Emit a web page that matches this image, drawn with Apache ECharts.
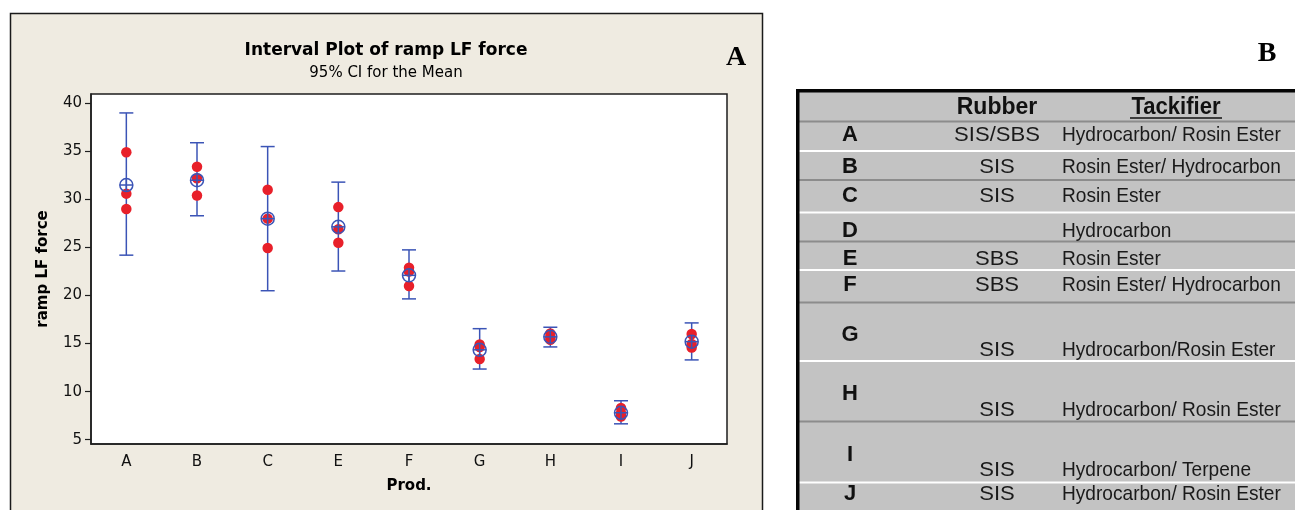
<!DOCTYPE html>
<html>
<head>
<meta charset="utf-8">
<title>Interval Plot of ramp LF force</title>
<script src="https://cdn.jsdelivr.net/npm/echarts@6/dist/echarts.min.js"></script>
<style>
  html, body { margin: 0; padding: 0; background: #ffffff; }
  #chart { width: 1295px; height: 510px; }
</style>
</head>
<body>
<div id="chart"></div>
<script>
// ---- Interval plot data (ramp LF force by product) ----
const categories = ['A', 'B', 'C', 'E', 'F', 'G', 'H', 'I', 'J'];
const meanForce  = [31.5, 32.0, 28.0, 27.15, 22.1, 14.35, 15.7, 7.8, 15.2];
const ciLower    = [24.2, 28.3, 20.5, 22.55, 19.65, 12.35, 14.65, 6.65, 13.3];
const ciUpper    = [39.0, 35.9, 35.5, 31.8, 24.75, 16.55, 16.7, 9.05, 17.15];
const readings   = [
  [34.9, 30.6, 29.0],
  [33.4, 32.2, 30.4],
  [31.0, 28.0, 24.95],
  [29.2, 26.9, 25.5],
  [22.9, 22.5, 21.0],
  [14.9, 14.65, 13.4],
  [16.05, 15.65, 15.4],
  [8.3, 7.75, 7.4],
  [16.0, 14.95, 14.6]
];
const yTicks = [5, 10, 15, 20, 25, 30, 35, 40];

// ---- Formulation table ----
const tableHeaders   = ['Rubber', 'Tackifier'];
const tableProducts  = ['A', 'B', 'C', 'D', 'E', 'F', 'G', 'H', 'I', 'J'];
const tableRubber    = ['SIS/SBS', 'SIS', 'SIS', '', 'SBS', 'SBS', 'SIS', 'SIS', 'SIS', 'SIS'];
const tableTackifier = [
  'Hydrocarbon/ Rosin Ester',
  'Rosin Ester/ Hydrocarbon',
  'Rosin Ester',
  'Hydrocarbon',
  'Rosin Ester',
  'Rosin Ester/ Hydrocarbon',
  'Hydrocarbon/Rosin Ester',
  'Hydrocarbon/ Rosin Ester',
  'Hydrocarbon/ Terpene',
  'Hydrocarbon/ Rosin Ester'
];

// ---- Styling / layout ----
const BLUE = '#3b54b6';
const RED = '#e8202a';
const INK = '#111111';
const PANEL_BG = '#efebe1';
const TABLE_BG = '#c3c3c3';
const SANS = '"DejaVu Sans", Verdana, sans-serif';
const TABLE_FONT = '"Liberation Sans", Arial, sans-serif';
const SERIF = '"Liberation Serif", "Times New Roman", serif';

// table geometry
const TBL_LEFT = 797;
const TBL_TOP = 91;
const COL_PRODUCT_X = 850;
const COL_RUBBER_X = 997;
const COL_TACK_X = 1062;
const separatorY = [121.5, 151, 180, 212.5, 241.5, 270, 302.5, 361, 421.5, 482.5];
const letterY = [135, 167, 196, 231, 259, 285, 335, 394, 455, 494];
const detailY = [135, 167, 196, 231, 259, 285, 350, 410, 470, 494];

const graphics = [];

// left panel background with frame
graphics.push({
  type: 'rect', z: -5,
  shape: { x: 10.5, y: 13.5, width: 752, height: 520 },
  style: { fill: PANEL_BG, stroke: '#1a1a1a', lineWidth: 1.5 }
});
graphics.push({
  type: 'text', z: 5,
  style: { text: 'A', x: 736, y: 58, align: 'center', verticalAlign: 'middle',
           font: 'bold 28px ' + SERIF, fill: '#000' }
});
graphics.push({
  type: 'text', z: 5,
  style: { text: 'B', x: 1267, y: 54, align: 'center', verticalAlign: 'middle',
           font: 'bold 28px ' + SERIF, fill: '#000' }
});

// table body
graphics.push({
  type: 'rect', z: 1,
  shape: { x: TBL_LEFT, y: TBL_TOP, width: 1295 - TBL_LEFT, height: 510 - TBL_TOP + 10 },
  style: { fill: TABLE_BG }
});
separatorY.forEach(function (y, i) {
  graphics.push({
    type: 'rect', z: 2,
    shape: { x: TBL_LEFT, y: y - 1, width: 1295 - TBL_LEFT, height: 2 },
    style: { fill: i % 2 === 0 ? '#8c8c8c' : '#ffffff' }
  });
});
// heavy top and left rules
graphics.push({
  type: 'rect', z: 3,
  shape: { x: TBL_LEFT - 1, y: TBL_TOP - 2, width: 1295 - TBL_LEFT + 1, height: 3.5 },
  style: { fill: '#050505' }
});
graphics.push({
  type: 'rect', z: 3,
  shape: { x: TBL_LEFT - 1, y: TBL_TOP - 2, width: 3.5, height: 510 - TBL_TOP + 10 },
  style: { fill: '#050505' }
});
// header
graphics.push({
  type: 'text', z: 4,
  style: { text: tableHeaders[0], x: COL_RUBBER_X, y: 108, align: 'center', verticalAlign: 'middle',
           font: 'bold 23px ' + TABLE_FONT, fill: '#111' }
});
graphics.push({
  type: 'text', z: 4, x: 1176, y: 108, scaleX: 0.96,
  style: { text: tableHeaders[1], x: 0, y: 0, align: 'center', verticalAlign: 'middle',
           font: 'bold 23px ' + TABLE_FONT, fill: '#111' }
});
graphics.push({
  type: 'line', z: 4,
  shape: { x1: 1130, y1: 118, x2: 1222, y2: 118 },
  style: { stroke: '#111', lineWidth: 1.6 }
});
// rows
tableProducts.forEach(function (p, i) {
  graphics.push({
    type: 'text', z: 4,
    style: { text: p, x: COL_PRODUCT_X, y: letterY[i], align: 'center', verticalAlign: 'middle',
             font: 'bold 22px ' + TABLE_FONT, fill: '#111' }
  });
  if (tableRubber[i]) {
    graphics.push({
      type: 'text', z: 4, x: COL_RUBBER_X, y: detailY[i], scaleX: 1.05,
      style: { text: tableRubber[i], x: 0, y: 0, align: 'center', verticalAlign: 'middle',
               font: '21px ' + TABLE_FONT, fill: '#1a1a1a' }
    });
  }
  graphics.push({
    type: 'text', z: 4, x: COL_TACK_X, y: detailY[i], scaleX: 0.91,
    style: { text: tableTackifier[i], x: 0, y: 0, align: 'left', verticalAlign: 'middle',
             font: '21px ' + TABLE_FONT, fill: '#1a1a1a' }
  });
});

// series data built from the arrays above
const errorData = categories.map(function (c, i) { return [i, ciLower[i], ciUpper[i]]; });
const meanData = categories.map(function (c, i) { return [i, meanForce[i]]; });
const pointData = [];
readings.forEach(function (vals, i) {
  vals.forEach(function (v) { pointData.push([i, v]); });
});

const chart = echarts.init(document.getElementById('chart'), null, { renderer: 'canvas' });
chart.setOption({
  backgroundColor: '#ffffff',
  animation: false,
  title: {
    text: 'Interval Plot of ramp LF force',
    subtext: '95% CI for the Mean',
    left: 386,
    top: 42,
    textAlign: 'center',
    itemGap: 7,
    padding: 0,
    textStyle: { fontFamily: SANS, fontSize: 17, fontWeight: 'bold', color: '#000' },
    subtextStyle: { fontFamily: SANS, fontSize: 15, color: '#000' }
  },
  graphic: { elements: graphics },
  grid: {
    left: 91, top: 94, width: 636, height: 350,
    show: true, backgroundColor: '#ffffff', borderColor: '#1e1e1e', borderWidth: 1.5
  },
  xAxis: {
    type: 'category',
    data: categories,
    boundaryGap: true,
    name: 'Prod.',
    nameLocation: 'middle',
    nameGap: 35,
    nameTextStyle: { fontFamily: SANS, fontSize: 15, fontWeight: 'bold', color: '#000' },
    axisLine: { lineStyle: { color: '#1e1e1e', width: 1.5 } },
    axisTick: { alignWithLabel: true, length: 7, lineStyle: { color: '#1e1e1e', width: 1.2 } },
    axisLabel: { margin: 11, fontFamily: SANS, fontSize: 15, color: INK },
    splitLine: { show: false }
  },
  yAxis: {
    type: 'value',
    min: 4.55,
    max: 40.97,
    name: 'ramp LF force',
    nameLocation: 'middle',
    nameGap: 40,
    nameTextStyle: { fontFamily: SANS, fontSize: 15, fontWeight: 'bold', color: '#000' },
    axisLine: { show: true, lineStyle: { color: '#1e1e1e', width: 1.5 } },
    axisTick: { show: true, customValues: yTicks, length: 6, lineStyle: { color: '#1e1e1e', width: 1.2 } },
    axisLabel: { customValues: yTicks, margin: 9, fontFamily: SANS, fontSize: 15, color: INK },
    splitLine: { show: false }
  },
  series: [
    {
      name: '95% CI',
      type: 'custom',
      z: 2,
      data: errorData,
      encode: { x: 0, y: [1, 2] },
      renderItem: function (params, api) {
        const lo = api.coord([api.value(0), api.value(1)]);
        const hi = api.coord([api.value(0), api.value(2)]);
        const hw = 7;
        const st = { stroke: BLUE, lineWidth: 1.5 };
        return {
          type: 'group',
          children: [
            { type: 'line', shape: { x1: lo[0], y1: lo[1], x2: hi[0], y2: hi[1] }, style: st },
            { type: 'line', shape: { x1: lo[0] - hw, y1: lo[1], x2: lo[0] + hw, y2: lo[1] }, style: st },
            { type: 'line', shape: { x1: hi[0] - hw, y1: hi[1], x2: hi[0] + hw, y2: hi[1] }, style: st }
          ]
        };
      }
    },
    {
      name: 'ramp LF force',
      type: 'scatter',
      z: 3,
      data: pointData,
      symbol: 'circle',
      symbolSize: 10.5,
      itemStyle: { color: RED, opacity: 1 }
    },
    {
      name: 'Mean',
      type: 'custom',
      z: 4,
      data: meanData,
      encode: { x: 0, y: 1 },
      renderItem: function (params, api) {
        const c = api.coord([api.value(0), api.value(1)]);
        const r = 6.5;
        const st = { stroke: BLUE, lineWidth: 1.5, fill: 'transparent' };
        return {
          type: 'group',
          children: [
            { type: 'circle', shape: { cx: c[0], cy: c[1], r: r }, style: st },
            { type: 'line', shape: { x1: c[0] - r, y1: c[1], x2: c[0] + r, y2: c[1] }, style: st },
            { type: 'line', shape: { x1: c[0], y1: c[1] - r, x2: c[0], y2: c[1] + r }, style: st }
          ]
        };
      }
    }
  ]
});
</script>
</body>
</html>
